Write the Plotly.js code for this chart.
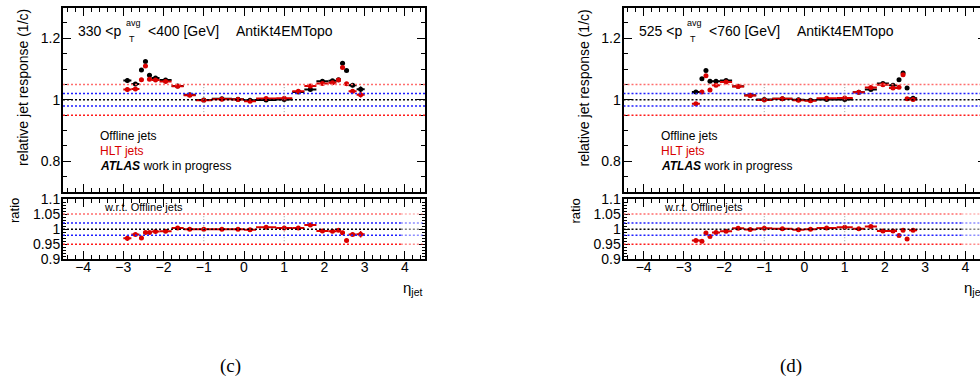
<!DOCTYPE html>
<html>
<head>
<meta charset="utf-8">
<script src="https://cdn.plot.ly/plotly-3.0.1.min.js"></script>
<style>
  html, body { margin: 0; padding: 0; overflow: hidden; background: #fff; }
  #chart { width: 1000px; height: 381px; }
</style>
</head>
<body>
<div id="chart"></div>
<script>
// ---- data: relative jet response vs eta, two pT(avg) bins ----
// eta bin edges
const edgesLow  = [-3.0, -2.8, -2.6, -2.5, -2.4, -2.3, -2.1, -1.8, -1.5, -1.2, -0.8, -0.3, 0.0,
                   0.3, 0.8, 1.2, 1.5, 1.8, 2.1, 2.3, 2.4, 2.5, 2.6, 2.8, 3.0];
const edgesHigh = [-2.8, -2.6, -2.5, -2.4, -2.3, -2.1, -1.8, -1.5, -1.2, -0.8, -0.3, 0.0,
                   0.3, 0.8, 1.2, 1.5, 1.8, 2.1, 2.3, 2.4, 2.5, 2.6, 2.8];

// 330 < pT(avg) < 400 GeV
const offlineLow = [1.063, 1.051, 1.097, 1.124, 1.080, 1.071, 1.064, 1.045, 1.016, 0.999, 1.003, 1.002,
                    0.998, 0.999, 1.001, 1.025, 1.033, 1.060, 1.062, 1.065, 1.119, 1.095, 1.047, 1.034];
const hltLow     = [1.033, 1.035, 1.065, 1.110, 1.067, 1.064, 1.059, 1.044, 1.015, 0.998, 1.002, 1.001,
                    0.995, 1.004, 1.005, 1.028, 1.045, 1.053, 1.055, 1.064, 1.105, 1.052, 1.028, 1.016];
const ratioLow   = [0.970, 0.982, 0.971, 0.989, 0.989, 0.992, 0.993, 1.004, 1.000, 1.000, 1.000, 1.000,
                    0.998, 1.006, 1.004, 1.004, 1.014, 0.994, 0.993, 0.996, 0.988, 0.962, 0.982, 0.983];
const offlineErrLow = [0.008, 0.006, 0.004, 0.004, 0.003, 0.003, 0.002, 0.002, 0.002, 0.002, 0.002, 0.002,
                       0.002, 0.002, 0.002, 0.002, 0.002, 0.002, 0.003, 0.003, 0.004, 0.004, 0.006, 0.009];
const hltErrLow     = [0.008, 0.006, 0.004, 0.004, 0.003, 0.003, 0.002, 0.002, 0.002, 0.002, 0.002, 0.002,
                       0.002, 0.002, 0.002, 0.002, 0.002, 0.002, 0.003, 0.003, 0.004, 0.004, 0.006, 0.009];
const ratioErrLow   = [0.009, 0.005, 0.004, 0.003, 0.003, 0.003, 0.002, 0.002, 0.002, 0.002, 0.002, 0.002,
                       0.002, 0.002, 0.002, 0.002, 0.002, 0.002, 0.003, 0.003, 0.003, 0.003, 0.005, 0.011];

// 525 < pT(avg) < 760 GeV
const offlineHigh = [1.025, 1.068, 1.095, 1.060, 1.060, 1.063, 1.044, 1.015, 1.001, 1.003, 1.000,
                     0.998, 1.001, 1.001, 1.024, 1.033, 1.053, 1.047, 1.065, 1.087, 1.038, 1.005];
const hltHigh     = [0.987, 1.025, 1.078, 1.032, 1.047, 1.058, 1.043, 1.014, 0.999, 1.003, 0.998,
                     0.997, 1.005, 1.006, 1.024, 1.040, 1.049, 1.038, 1.041, 1.081, 1.003, 1.001];
const ratioHigh   = [0.962, 0.960, 0.987, 0.976, 0.989, 0.993, 1.003, 0.999, 1.003, 1.001, 0.998,
                     1.000, 1.004, 1.006, 1.001, 1.009, 0.994, 0.994, 0.979, 0.996, 0.967, 0.996];
const offlineErrHigh = [0.005, 0.004, 0.004, 0.003, 0.003, 0.002, 0.002, 0.002, 0.002, 0.002, 0.002,
                        0.002, 0.002, 0.002, 0.002, 0.002, 0.002, 0.003, 0.003, 0.003, 0.004, 0.005];
const hltErrHigh     = [0.005, 0.004, 0.004, 0.003, 0.003, 0.002, 0.002, 0.002, 0.002, 0.002, 0.002,
                        0.002, 0.002, 0.002, 0.002, 0.002, 0.002, 0.003, 0.003, 0.003, 0.004, 0.005];
const ratioErrHigh   = [0.005, 0.003, 0.003, 0.003, 0.003, 0.002, 0.002, 0.002, 0.002, 0.002, 0.002,
                        0.002, 0.002, 0.002, 0.002, 0.002, 0.002, 0.002, 0.003, 0.003, 0.003, 0.004];

// reference levels drawn as dotted lines
const refLevels = [1.05, 1.02, 1.0, 0.98, 0.95];
const refColors = ['#ff6e6e', '#1e1eff', '#000000', '#1e1eff', '#ff1a1a'];
const etaMarks  = [-1, 1];

// labels
const panelRanges = ['330', '400', '525', '760'];
const jetAlgo = 'AntiKt4EMTopo';
const captions = ['(c)', '(d)'];

// ---- layout geometry (pixels) ----
const W = 1000, H = 381;
const FONT = 'Liberation Sans, Arial, Helvetica, sans-serif';
const RED = '#d80000';
const fx = p => p / W;
const fy = p => 1 - p / H;
const panelW = 362;
const panelX0 = [63, 623.5];
const mainY = [7.5, 192];
const ratioY = [199, 259.3];

function binInfo(edges) {
  const c = [], hw = [];
  for (let i = 0; i < edges.length - 1; i++) {
    c.push((edges[i] + edges[i + 1]) / 2);
    hw.push((edges[i + 1] - edges[i]) / 2);
  }
  return { c, hw };
}

function series(x, hw, y, ey, color, xa, ya) {
  return {
    type: 'scatter', mode: 'markers', x, y, xaxis: xa, yaxis: ya,
    marker: { color, size: 5, symbol: 'circle' },
    error_x: { type: 'data', array: hw, color, thickness: 2, width: 0 },
    error_y: { type: 'data', array: ey, color, thickness: 1.5, width: 0 },
    hoverinfo: 'x+y', showlegend: false
  };
}

function xAxis(i, anchor, labels) {
  const x0 = panelX0[i];
  return {
    domain: [fx(x0), fx(x0 + panelW)], anchor, range: [-4.5, 4.5],
    tick0: 0, dtick: 1, ticks: 'inside', ticklen: 8, tickwidth: 1, tickcolor: '#000',
    mirror: 'allticks', showline: true, linewidth: 2, linecolor: '#000',
    showgrid: false, zeroline: false, showticklabels: labels, ticklabelstandoff: -6,
    tickfont: { family: FONT, size: 14, color: '#000' },
    minor: { ticks: 'inside', dtick: 0.2, ticklen: 4, tickwidth: 1, tickcolor: '#000', showgrid: false }
  };
}

function yAxis(anchor, yr, range, dtick, minorDtick, len) {
  return {
    domain: [fy(yr[1]), fy(yr[0])], anchor, range,
    tick0: 0, dtick, ticks: 'inside', ticklen: len, tickwidth: 1, tickcolor: '#000',
    mirror: 'allticks', showline: true, linewidth: 2, linecolor: '#000',
    showgrid: false, zeroline: false, ticklabelstandoff: -2,
    tickfont: { family: FONT, size: 14, color: '#000' },
    minor: { ticks: 'inside', dtick: minorDtick, ticklen: Math.round(len / 2), tickwidth: 1, tickcolor: '#000', showgrid: false }
  };
}

function refShapes(xr, yr, isRatio) {
  const s = [];
  refLevels.forEach((lv, k) => {
    if (isRatio) {
      s.push({ type: 'line', xref: xr, yref: yr, x0: -4.5, x1: 3.9, y0: lv, y1: lv,
               line: { color: refColors[k], width: 1.5, dash: '2px,2px' } });
      s.push({ type: 'line', xref: xr, yref: yr, x0: 3.9, x1: 4.5, y0: lv, y1: lv, opacity: 0.5,
               line: { color: refColors[k], width: 1.5, dash: '2px,2px' } });
    } else {
      s.push({ type: 'line', xref: xr, yref: yr, x0: -4.5, x1: 4.5, y0: lv, y1: lv,
               line: { color: refColors[k], width: 1.5, dash: '2px,2px' } });
    }
  });
  etaMarks.forEach(e => {
    s.push({ type: 'line', xref: xr, yref: yr, x0: e, x1: e, y0: 0.95, y1: 1.05,
             line: { color: '#9a9a9a', width: 1, dash: '1px,2px' } });
  });
  return s;
}

function txt(x, y, text, size, color, extra) {
  return Object.assign({
    xref: 'paper', yref: 'paper', x: fx(x), y: fy(y), text, showarrow: false,
    xanchor: 'left', yanchor: 'middle', borderpad: 0,
    font: { family: FONT, size, color }
  }, extra || {});
}

function panelAnnotations(i) {
  const d = panelX0[i] - panelX0[0];
  const lo = panelRanges[2 * i], hi = panelRanges[2 * i + 1];
  return [
    txt(77 + d, 31, lo + ' <p', 14, '#000'),
    txt(125 + d, 22.5, 'avg', 9, '#000'),
    txt(128 + d, 39.5, 'T', 9, '#000'),
    txt(147 + d, 31, '<' + hi + ' [GeV]', 14, '#000'),
    txt(235 + d, 31, jetAlgo, 14, '#000'),
    txt(99 + d, 136, 'Offline jets', 12, '#000'),
    txt(99 + d, 151, 'HLT jets', 12, RED),
    txt(99 + d, 165.5, '<b><i>ATLAS</i></b> work in progress', 12, '#000'),
    txt(102.5 + d, 207.5, 'w.r.t. Offline jets', 11, '#000'),
    txt(23 + d, 88, 'relative jet response (1/c)', 14, '#000', { xanchor: 'center', textangle: -90 }),
    txt(14 + d, 211, 'ratio', 13, '#000', { xanchor: 'center', textangle: -90 }),
    txt(402 + d, 288, 'η<sub>jet</sub>', 15, '#000'),
    txt(230 + d, 366, captions[i], 18, '#000',
        { xanchor: 'center', font: { family: 'Liberation Serif, DejaVu Serif, serif', size: 19, color: '#000' } })
  ];
}

const bLow = binInfo(edgesLow), bHigh = binInfo(edgesHigh);

const traces = [
  series(bLow.c, bLow.hw, offlineLow, offlineErrLow, '#000', 'x', 'y'),
  series(bLow.c, bLow.hw, hltLow, hltErrLow, RED, 'x', 'y'),
  series(bLow.c, bLow.hw, ratioLow, ratioErrLow, RED, 'x2', 'y2'),
  series(bHigh.c, bHigh.hw, offlineHigh, offlineErrHigh, '#000', 'x3', 'y3'),
  series(bHigh.c, bHigh.hw, hltHigh, hltErrHigh, RED, 'x3', 'y3'),
  series(bHigh.c, bHigh.hw, ratioHigh, ratioErrHigh, RED, 'x4', 'y4')
];

const layout = {
  width: W, height: H, autosize: false,
  margin: { l: 0, r: 0, t: 0, b: 0 },
  paper_bgcolor: '#fff', plot_bgcolor: '#fff',
  font: { family: FONT, color: '#000' },
  showlegend: false,
  xaxis:  xAxis(0, 'y', false),
  yaxis:  yAxis('x', mainY, [0.7, 1.3], 0.2, 0.05, 8),
  xaxis2: xAxis(0, 'y2', true),
  yaxis2: yAxis('x2', ratioY, [0.9, 1.1], 0.05, 0.01, 6),
  xaxis3: xAxis(1, 'y3', false),
  yaxis3: yAxis('x3', mainY, [0.7, 1.3], 0.2, 0.05, 8),
  xaxis4: xAxis(1, 'y4', true),
  yaxis4: yAxis('x4', ratioY, [0.9, 1.1], 0.05, 0.01, 6),
  shapes: [].concat(refShapes('x', 'y', false), refShapes('x2', 'y2', true),
                    refShapes('x3', 'y3', false), refShapes('x4', 'y4', true)),
  annotations: [].concat(panelAnnotations(0), panelAnnotations(1))
};

Plotly.newPlot('chart', traces, layout, { staticPlot: true, displayModeBar: false });
</script>
</body>
</html>
